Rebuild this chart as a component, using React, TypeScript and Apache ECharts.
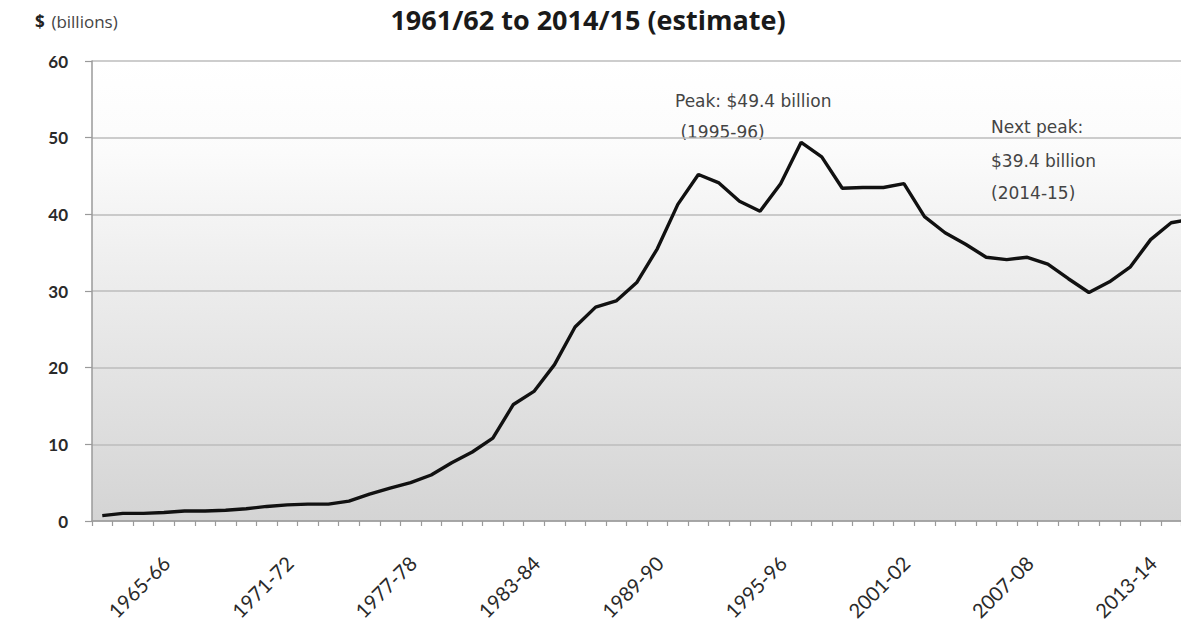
import React, { useEffect, useRef } from "react";
import * as echarts from "echarts";

const categories = [
  "1961-62", "1962-63", "1963-64", "1964-65", "1965-66", "1966-67", "1967-68", "1968-69", "1969-70",
  "1970-71", "1971-72", "1972-73", "1973-74", "1974-75", "1975-76", "1976-77", "1977-78", "1978-79",
  "1979-80", "1980-81", "1981-82", "1982-83", "1983-84", "1984-85", "1985-86", "1986-87", "1987-88",
  "1988-89", "1989-90", "1990-91", "1991-92", "1992-93", "1993-94", "1994-95", "1995-96", "1996-97",
  "1997-98", "1998-99", "1999-00", "2000-01", "2001-02", "2002-03", "2003-04", "2004-05", "2005-06",
  "2006-07", "2007-08", "2008-09", "2009-10", "2010-11", "2011-12", "2012-13", "2013-14", "2014-15",
];

const billions = [
  0.7, 1.0, 1.0, 1.1, 1.3, 1.3, 1.4, 1.6, 1.9,
  2.1, 2.2, 2.2, 2.6, 3.5, 4.3, 5.0, 6.0, 7.6,
  9.0, 10.8, 15.2, 16.9, 20.4, 25.3, 27.9, 28.7, 31.1,
  35.5, 41.3, 45.2, 44.1, 41.7, 40.4, 44.0, 49.4, 47.5,
  43.4, 43.5, 43.5, 44.0, 39.7, 37.6, 36.1, 34.4, 34.1,
  34.4, 33.5, 31.6, 29.8, 31.2, 33.1, 36.7, 38.9, 39.4,
];

const yMin = 0;
const yMax = 60;
const yStep = 10;

const TITLE = "1961/62 to 2014/15 (estimate)";
const UNIT_SYMBOL = "$";
const UNIT_TEXT = "(billions)";
const peakNote = ["Peak: $49.4 billion", " (1995-96)"];
const nextNote = ["Next peak:", "$39.4 billion", "(2014-15)"];

// The original chart is cropped on its right side: the drawing surface is wider than the window.
const CANVAS_W = 1230;
const CANVAS_H = 633;

export default function App() {
  const ref = useRef<HTMLDivElement>(null);

  useEffect(() => {
    if (!ref.current) return;
    const chart = echarts.init(ref.current, null, { renderer: "svg" });
    const noteFont = '17px "DejaVu Sans"';
    const noteColor = "#444";
    chart.setOption({
      animation: false,
      backgroundColor: "#ffffff",
      grid: {
        left: 92,
        right: 28,
        top: 61,
        bottom: 112,
        show: true,
        borderWidth: 0,
        backgroundColor: new echarts.graphic.LinearGradient(0, 0, 0, 1, [
          { offset: 0, color: "#ffffff" },
          { offset: 0.2, color: "#fbfbfb" },
          { offset: 0.45, color: "#eeeeee" },
          { offset: 1, color: "#d4d4d4" },
        ]),
      },
      xAxis: {
        type: "category",
        data: categories,
        boundaryGap: true,
        axisLine: { show: true, lineStyle: { color: "#9a9a9a", width: 1.5 } },
        axisTick: { show: true, interval: 0, length: 5, lineStyle: { color: "#9a9a9a", width: 1.2 } },
        axisLabel: {
          interval: (index: number) => index % 6 === 4,
          rotate: 45,
          margin: 20,
          padding: [0, 26, 0, 0],
          fontFamily: "Lato",
          fontSize: 20,
          color: "#2a2a2a",
        },
        splitLine: { show: false },
      },
      yAxis: {
        type: "value",
        min: yMin,
        max: yMax,
        interval: yStep,
        axisLine: { show: true, lineStyle: { color: "#9a9a9a", width: 1.5 } },
        axisTick: { show: true, length: 7, lineStyle: { color: "#9a9a9a", width: 1.2 } },
        axisLabel: {
          margin: 24,
          fontFamily: "Lato",
          fontWeight: "bold",
          fontSize: 17,
          color: "#2a2a2a",
        },
        splitLine: { show: true, lineStyle: { color: "#bdbdbd", width: 1.5 } },
      },
      series: [
        {
          type: "line",
          data: billions,
          showSymbol: false,
          smooth: false,
          lineStyle: { color: "#111111", width: 3.4 },
          z: 5,
        },
      ],
      graphic: [
        {
          type: "text",
          x: 588,
          y: 19,
          style: {
            text: TITLE,
            font: 'bold 27px "Open Sans"',
            fill: "#1a1a1a",
            align: "center",
            verticalAlign: "middle",
          },
        },
        {
          type: "text",
          x: 35,
          y: 21,
          style: {
            text: `{a|${UNIT_SYMBOL}}  {b|${UNIT_TEXT}}`,
            verticalAlign: "middle",
            rich: {
              a: { font: 'bold 17px "Open Sans"', fill: "#222" },
              b: { font: '17px "Open Sans"', fill: "#444" },
            },
          },
        },
        { type: "text", x: 675, y: 101, style: { text: peakNote[0], font: noteFont, fill: noteColor, verticalAlign: "middle" } },
        { type: "text", x: 675, y: 132, style: { text: peakNote[1], font: noteFont, fill: noteColor, verticalAlign: "middle" } },
        { type: "text", x: 991, y: 127, style: { text: nextNote[0], font: noteFont, fill: noteColor, verticalAlign: "middle" } },
        { type: "text", x: 991, y: 161, style: { text: nextNote[1], font: noteFont, fill: noteColor, verticalAlign: "middle" } },
        { type: "text", x: 991, y: 193, style: { text: nextNote[2], font: noteFont, fill: noteColor, verticalAlign: "middle" } },
      ],
    });
    return () => chart.dispose();
  }, []);

  return (
    <div style={{ position: "fixed", left: 0, top: 0, width: 1181, height: 633, overflow: "hidden", background: "#fff" }}>
      <div ref={ref} style={{ width: CANVAS_W, height: CANVAS_H }} />
    </div>
  );
}
